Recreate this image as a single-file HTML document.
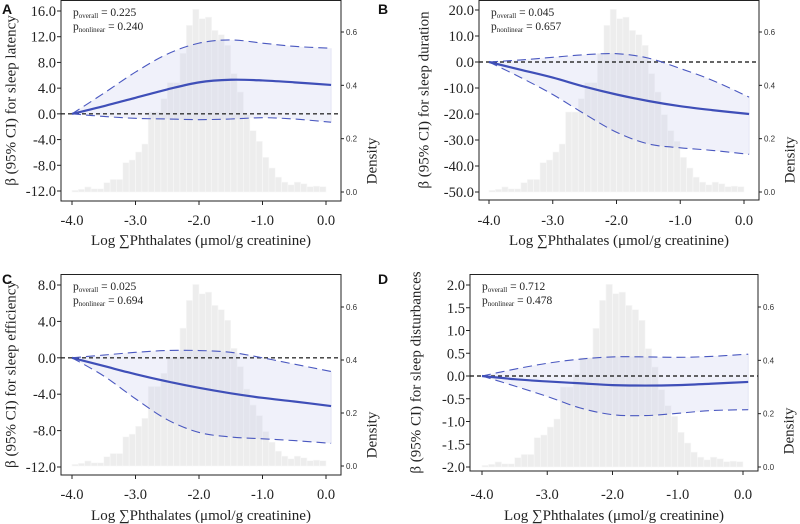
<!DOCTYPE html>
<html><head><meta charset="utf-8"><style>
html,body{margin:0;padding:0;background:#fff;}
svg{display:block;font-family:"Liberation Serif",serif;}
</style></head><body>
<svg id="chart" width="800" height="524" viewBox="0 0 800 524" xmlns="http://www.w3.org/2000/svg"></svg>
<script>
// Shared histogram densities (bins of 0.1 from -4.0 to 0.0)
const binStarts = [];
for (let i = 0; i < 40; i++) binStarts.push(-4 + i * 0.1);
const densities = [0.006,0.01,0.019,0.012,0.012,0.035,0.047,0.047,0.11,0.12,0.15,0.18,0.30,0.30,0.35,0.41,0.41,0.52,0.625,0.685,0.65,0.656,0.606,0.59,0.55,0.444,0.375,0.29,0.23,0.19,0.13,0.09,0.056,0.037,0.027,0.037,0.031,0.02,0.022,0.02];
const curveX = [-4,-3.5,-3,-2.5,-2,-1.5,-1,-0.5,0.08];
// Panel A
const estA = [0,1.2,2.5,3.8,4.9,5.3,5.2,4.9,4.5];
const upA  = [0,3.2,6.5,9.3,11.0,11.5,11.0,10.5,10.2];
const loA  = [0,-0.4,-0.7,-0.8,-0.9,-0.8,-0.6,-0.8,-1.3];
const ticksA = [16,12,8,4,0,-4,-8,-12];
// Panel B
const estB = [0,-3,-6,-9.5,-12.5,-15,-17,-18.5,-20];
const upB  = [0,0.8,1.8,2.8,3.2,1.5,-2.5,-7,-13.5];
const loB  = [0,-6,-12.5,-20,-27,-31.5,-33,-34,-35.5];
const ticksB = [20,10,0,-10,-20,-30,-40,-50];
// Panel C
const estC = [0,-0.9,-1.8,-2.6,-3.3,-3.9,-4.4,-4.8,-5.3];
const upC  = [0,0.3,0.6,0.8,0.8,0.6,0,-0.7,-1.5];
const loC  = [0,-2,-4.5,-6.8,-8.2,-8.7,-8.9,-9.1,-9.4];
const ticksC = [8,4,0,-4,-8,-12];
// Panel D
const estD = [0,-0.07,-0.12,-0.16,-0.2,-0.21,-0.2,-0.17,-0.13];
const upD  = [0,0.15,0.28,0.37,0.42,0.42,0.41,0.43,0.48];
const loD  = [0,-0.22,-0.45,-0.7,-0.85,-0.87,-0.82,-0.76,-0.74];
const ticksD = [2,1.5,1,0.5,0,-0.5,-1,-1.5,-2];
const xTicks = [-4,-3,-2,-1,0];
const densTicks = [0,0.2,0.4,0.6];

const NS = "http://www.w3.org/2000/svg";
const svg = document.getElementById("chart");
function mk(tag, attrs, parent, text){
  const e = document.createElementNS(NS, tag);
  for (const k in attrs) e.setAttribute(k, attrs[k]);
  if (text !== undefined) e.textContent = text;
  (parent || svg).appendChild(e);
  return e;
}
function smooth(pts){
  let d = "M" + pts[0][0] + "," + pts[0][1];
  for (let i = 0; i < pts.length - 1; i++){
    const p0 = pts[Math.max(0,i-1)], p1 = pts[i], p2 = pts[i+1], p3 = pts[Math.min(pts.length-1,i+2)];
    const c1 = [p1[0]+(p2[0]-p0[0])/6, p1[1]+(p2[1]-p0[1])/6];
    const c2 = [p2[0]-(p3[0]-p1[0])/6, p2[1]-(p3[1]-p1[1])/6];
    d += " C" + c1[0] + "," + c1[1] + " " + c2[0] + "," + c2[1] + " " + p2[0] + "," + p2[1];
  }
  return d;
}

const panels = [
  {id:"a", letter:"A", lx:2, ly:14, L:61, R:341, T:0, B:201, x0:72, x1:326, yMax:16, yMaxPx:11, yMin:-12, yMinPx:191, d0:192, d6:32, titleX:12, lblY:220, xtY:240,
   title:"β (95% CI) for sleep latency", est:estA, up:upA, lo:loA, ticks:ticksA, p1:"0.225", p2:"0.240"},
  {id:"b", letter:"B", lx:378, ly:14, L:479, R:759, T:0, B:200, x0:489, x1:744, yMax:20, yMaxPx:10, yMin:-50, yMinPx:192, d0:192, d6:32, titleX:425, lblY:220, xtY:240,
   title:"β (95% CI) for sleep duration", est:estB, up:upB, lo:loB, ticks:ticksB, p1:"0.045", p2:"0.657"},
  {id:"c", letter:"C", lx:2, ly:284, L:61, R:341, T:274, B:475, x0:72, x1:326, yMax:8, yMaxPx:285, yMin:-12, yMinPx:467, d0:466, d6:307, titleX:12, lblY:494, xtY:515,
   title:"β (95% CI) for sleep efficiency", est:estC, up:upC, lo:loC, ticks:ticksC, p1:"0.025", p2:"0.694"},
  {id:"d", letter:"D", lx:378, ly:284, L:470, R:758, T:274, B:471, x0:482, x1:743, yMax:2, yMaxPx:285, yMin:-2, yMinPx:467, d0:467, d6:307, titleX:417, lblY:494, xtY:515,
   title:"β (95% CI) for sleep disturbances", est:estD, up:upD, lo:loD, ticks:ticksD, p1:"0.712", p2:"0.478"}
];

panels.forEach(p => {
  const g = mk("g", {}, svg);
  
  
  const xs = v => p.x0 + (v + 4) / 4 * (p.x1 - p.x0);
  const ys = v => p.yMaxPx + (p.yMax - v) / (p.yMax - p.yMin) * (p.yMinPx - p.yMaxPx);
  const ds = v => p.d0 - v / 0.6 * (p.d0 - p.d6);

  const hg = mk("g", {}, g);
  
  
  densities.forEach((dv, i) => {
    const xa = xs(binStarts[i]), xb = xs(binStarts[i] + 0.1);
    const r = mk("rect", {x:xa, y:ds(dv), width:xb-xa, height:ds(0)-ds(dv), fill:"#ededed", stroke:"#f8f8f8", "stroke-width":0.6}, hg);
    
    
  });

  const upPts = curveX.map((x,i)=>[xs(x), ys(p.up[i])]);
  const loPts = curveX.map((x,i)=>[xs(x), ys(p.lo[i])]);
  const loRev = loPts.slice().reverse();
  let band = smooth(upPts) + " L" + loRev[0][0] + "," + loRev[0][1] + smooth(loRev).replace(/^M[^C]*/, " ") + " Z";
  const bandEl = mk("path", {d:band, fill:"rgba(205,208,240,0.3)", stroke:"none"}, g);
  
  
  const edge = mk("line", {x1:upPts[upPts.length-1][0], y1:upPts[upPts.length-1][1], x2:loPts[loPts.length-1][0], y2:loPts[loPts.length-1][1], stroke:"#e4e6f4", "stroke-width":1}, g);
  
  

  const z = mk("line", {x1:p.L, x2:p.R, y1:ys(0), y2:ys(0), stroke:"#333", "stroke-width":1.4, "stroke-dasharray":"4,3"}, g);
  
  

  const upEl = mk("path", {d:smooth(upPts), fill:"none", stroke:"#4a58c0", "stroke-width":1.1, "stroke-dasharray":"9,5"}, g);
  
  
  const loEl = mk("path", {d:smooth(loPts), fill:"none", stroke:"#4a58c0", "stroke-width":1.1, "stroke-dasharray":"9,5"}, g);
  
  
  const estEl = mk("path", {d:smooth(curveX.map((x,i)=>[xs(x), ys(p.est[i])])), fill:"none", stroke:"#3f4fb8", "stroke-width":2.2}, g);
  
  

  const fr = mk("rect", {x:p.L, y:p.T+0.5, width:p.R-p.L, height:p.B-p.T-0.5, fill:"none", stroke:"#222", "stroke-width":1}, g);
  
  

  p.ticks.forEach(t => {
    const y = ys(t);
    const tl = mk("line", {x1:p.L-4, x2:p.L, y1:y, y2:y, stroke:"#222"}, g);
    
    
    const tx = mk("text", {x:p.L-5, y:y+5, "text-anchor":"end", "font-size":14.5, fill:"#222"}, g, t.toFixed(1));
    
    
  });
  xTicks.forEach(t => {
    const x = xs(t);
    const tl = mk("line", {x1:x, x2:x, y1:p.B, y2:p.B+4, stroke:"#222"}, g);
    
    
    const tx = mk("text", {x:x, y:p.lblY+5, "text-anchor":"middle", "font-size":14.5, fill:"#222"}, g, t.toFixed(1));
    
    
  });
  densTicks.forEach(t => {
    const y = ds(t);
    const tl = mk("line", {x1:p.R, x2:p.R+3, y1:y, y2:y, stroke:"#222"}, g);
    
    
    const tx = mk("text", {x:p.R+5, y:y+3, "font-size":8, fill:"#333", "font-family":"Liberation Sans, sans-serif"}, g, t.toFixed(1));
    
    
  });
  const cy = (p.T + p.B) / 2;
  const yt = mk("text", {x:p.titleX, y:cy, transform:"rotate(-90 " + p.titleX + " " + cy + ")", "text-anchor":"middle", "dominant-baseline":"middle", "font-size":15, fill:"#222"}, g, p.title);
  
  
  const dx = p.R + 32;
  const dt = mk("text", {x:dx, y:p.B-40, transform:"rotate(-90 " + dx + " " + (p.B-40) + ")", "text-anchor":"middle", "dominant-baseline":"middle", "font-size":15, fill:"#222"}, g, "Density");
  
  
  const xt = mk("text", {x:(p.L+p.R)/2, y:p.xtY+5, "text-anchor":"middle", "font-size":15, fill:"#222"}, g, "Log ∑Phthalates (μmol/g creatinine)");
  
  
  const lt = mk("text", {x:p.lx, y:p.ly, "font-size":14, "font-weight":"bold", "font-family":"Liberation Sans, sans-serif", fill:"#111"}, g, p.letter);
  
  
  const pv1 = mk("text", {x:p.L+12, y:p.T+16, "font-size":11.5, fill:"#222"}, g);
  
  
  mk("tspan", {}, pv1, "p");
  mk("tspan", {"font-size":7, dy:2}, pv1, "overall");
  mk("tspan", {dy:-2}, pv1, " = " + p.p1);
  const pv2 = mk("text", {x:p.L+12, y:p.T+30, "font-size":11.5, fill:"#222"}, g);
  
  
  mk("tspan", {}, pv2, "p");
  mk("tspan", {"font-size":7, dy:2}, pv2, "nonlinear");
  mk("tspan", {dy:-2}, pv2, " = " + p.p2);
});
</script>
</body></html>
